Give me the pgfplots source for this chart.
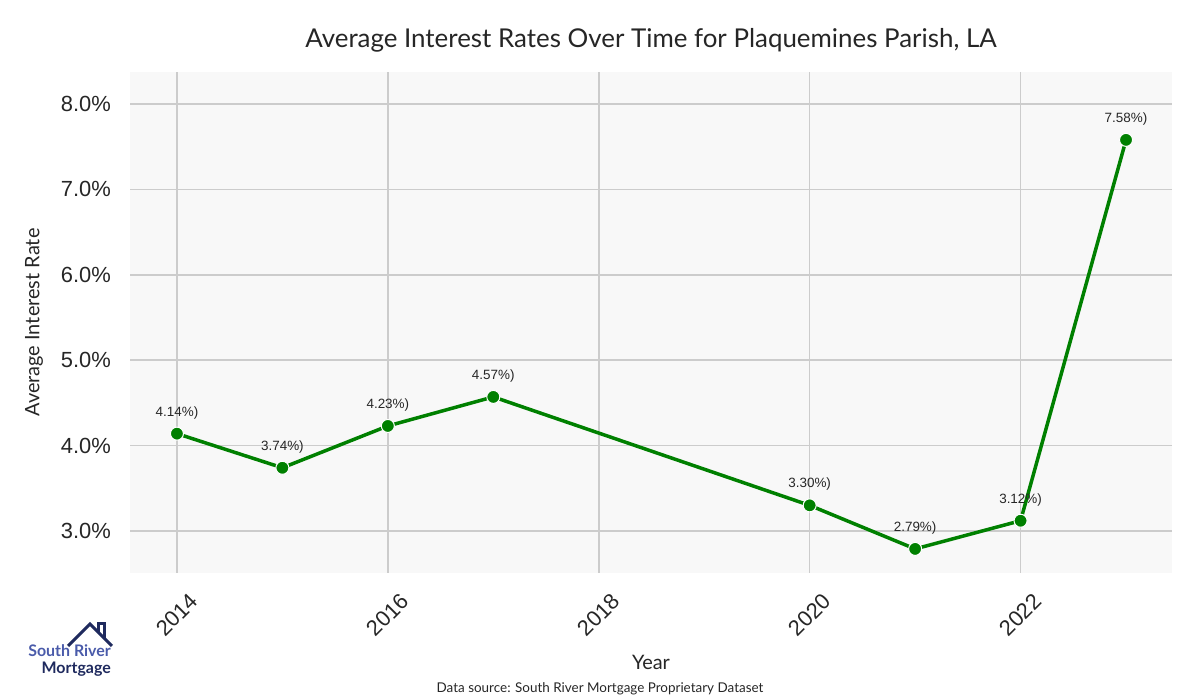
\documentclass[border=0pt]{standalone}
\usepackage{pgfplots}
\pgfplotsset{compat=1.18}
\usepackage{fontspec}
\setmainfont{Lato}
\newfontfamily\labfont{Liberation Sans}
\definecolor{bgc}{HTML}{F8F8F8}
\definecolor{gridc}{HTML}{CCCCCC}
\definecolor{linec}{HTML}{008000}
\definecolor{txt}{HTML}{262626}
\definecolor{logoA}{HTML}{4A5BAA}
\definecolor{logoB}{HTML}{1F2A5E}
\pgfplotstableread{
year rate
2014 4.14
2015 3.74
2016 4.23
2017 4.57
2020 3.30
2021 2.79
2022 3.12
2023 7.58
}\ratedata
\begin{document}
\begin{tikzpicture}[x=1bp,y=1bp]
\path[use as bounding box] (0,0) rectangle (1200,700);
\begin{axis}[
  at={(130bp,127bp)}, anchor=south west,
  width=1042bp, height=501bp, scale only axis,
  xmin=2013.555, xmax=2023.436,
  ymin=2.508, ymax=8.375,
  axis background/.style={fill=bgc},
  axis line style={draw=none},
  grid=major,
  major grid style={gridc, line width=1.5bp},
  major tick length=0pt,
  xtick={2014,2016,2018,2020,2022},
  ytick={3,4,5,6,7,8},
  xticklabel style={yshift=-42bp, rotate=45, anchor=center, inner sep=0pt, font=\labfont\fontsize{22}{24}\selectfont, text=txt},
  yticklabel style={anchor=east, inner sep=0pt, xshift=-19bp, font=\labfont\fontsize{22}{24}\selectfont, text=txt},
  xticklabel={\pgfmathprintnumber[fixed,1000 sep={},precision=0]{\tick}},
  yticklabel={\pgfmathprintnumber[fixed,fixed zerofill,precision=1]{\tick}\%},
  /pgf/number format/assume math mode=true,
  xlabel={Year}, ylabel={Average Interest Rate},
  xlabel style={font=\fontsize{20}{24}\selectfont, text=txt, at={(axis description cs:0.5,0)}, anchor=center, yshift=-89bp},
  ylabel style={font=\fontsize{20}{24}\selectfont, text=txt, at={(axis description cs:-0.0921,0.5)}, anchor=center},
  clip=false,
]
\addplot[linec, line width=3.5bp, mark=*, mark size=6.5bp,
  mark options={fill=linec, draw=white, line width=1bp},
  nodes near coords={\pgfmathprintnumber[fixed,fixed zerofill,precision=2]{\pgfplotspointmeta}\%)},
  point meta=y,
  every node near coord/.append style={font=\labfont\fontsize{13.5}{15}\selectfont, text=txt, anchor=center, yshift=21bp},
] table[x=year, y=rate] {\ratedata};
\end{axis}
\node[font=\fontsize{26}{30}\selectfont, text=txt] at (651,660) {Average Interest Rates Over Time for Plaquemines Parish, LA};
\node[font=\fontsize{13.5}{15}\selectfont, text=txt] at (600,11) {Data source: South River Mortgage Proprietary Dataset};
% logo
\draw[logoB, line width=3bp, line cap=butt, line join=miter] (68,54) -- (90,76) -- (112,54);
\draw[logoB, line width=3bp, line join=miter] (98,68) -- (98,76) -- (104,76) -- (104,62);
\node[font=\bfseries\fontsize{16}{18}\selectfont, text=logoA, anchor=base east, inner sep=0pt] at (111,43) {South River};
\node[font=\bfseries\fontsize{16}{18}\selectfont, text=logoB, anchor=base east, inner sep=0pt] at (111,26) {Mortgage};
\end{tikzpicture}
\end{document}
